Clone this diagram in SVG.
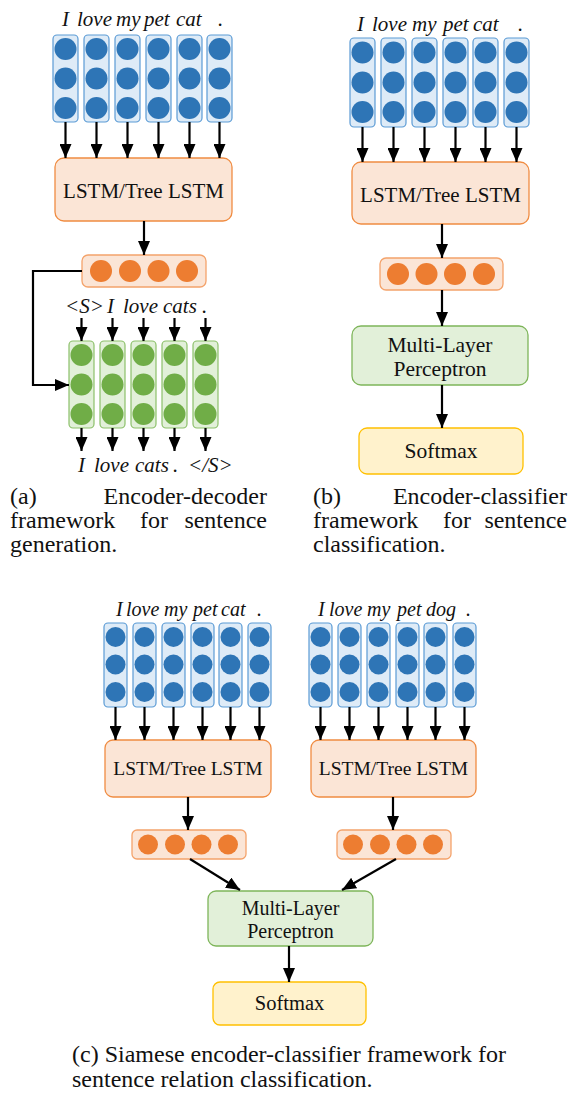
<svg xmlns="http://www.w3.org/2000/svg" width="579" height="1093" viewBox="0 0 579 1093">
<style>
.bcol{fill:#DEEBF7;stroke:#5B9BD5;stroke-width:1.2}
.bc{fill:#2E75B6}
.gcol{fill:#E2F0D9;stroke:#8CC06A;stroke-width:1.2}
.gc{fill:#70AD47}
.ovec{fill:#FBE5D6;stroke:#F4A36B;stroke-width:1.3}
.oc{fill:#ED7D31}
.lstm{fill:#FBE5D6;stroke:#F08C42;stroke-width:1.3}
.mlp{fill:#E2F0D9;stroke:#7EB55A;stroke-width:1.3}
.soft{fill:#FFF2CC;stroke:#FFC000;stroke-width:1.3}
.lbl{font-family:"Liberation Serif",serif;fill:#111;text-anchor:middle}
.it{font-family:"Liberation Serif",serif;font-style:italic;fill:#111}
.cap{font-family:"Liberation Serif",serif;font-size:24px;fill:#111}
.arr{stroke:#000;stroke-width:2.2;fill:none;marker-end:url(#ah)}
</style>
<defs>
<marker id="ah" viewBox="0 0 14 12" refX="14" refY="6" markerWidth="14" markerHeight="12" markerUnits="userSpaceOnUse" orient="auto">
<path d="M0,0 L14,6 L0,12 z" fill="#000"/>
</marker>
</defs>

<!-- Panel (a) -->
<g id="a-words" class="it" font-size="21">
<text x="62" y="26">I</text><text x="77" y="26">love</text><text x="116" y="26">my</text><text x="144" y="26">pet</text><text x="176" y="26">cat</text><text x="218" y="26">.</text>
</g>
<g id="a-input">
<rect class="bcol" x="53" y="35" width="25" height="87" rx="4"/>
<rect class="bcol" x="84" y="35" width="25" height="87" rx="4"/>
<rect class="bcol" x="115" y="35" width="25" height="87" rx="4"/>
<rect class="bcol" x="146" y="35" width="25" height="87" rx="4"/>
<rect class="bcol" x="177" y="35" width="25" height="87" rx="4"/>
<rect class="bcol" x="207" y="35" width="25" height="87" rx="4"/>
<g class="bc">
<circle cx="65.5" cy="49" r="11"/><circle cx="65.5" cy="78.5" r="11"/><circle cx="65.5" cy="108" r="11"/>
<circle cx="96.5" cy="49" r="11"/><circle cx="96.5" cy="78.5" r="11"/><circle cx="96.5" cy="108" r="11"/>
<circle cx="127.5" cy="49" r="11"/><circle cx="127.5" cy="78.5" r="11"/><circle cx="127.5" cy="108" r="11"/>
<circle cx="158.5" cy="49" r="11"/><circle cx="158.5" cy="78.5" r="11"/><circle cx="158.5" cy="108" r="11"/>
<circle cx="189.5" cy="49" r="11"/><circle cx="189.5" cy="78.5" r="11"/><circle cx="189.5" cy="108" r="11"/>
<circle cx="219.5" cy="49" r="11"/><circle cx="219.5" cy="78.5" r="11"/><circle cx="219.5" cy="108" r="11"/>
</g>
</g>
<g id="a-lstm">
<rect class="lstm" x="55" y="158" width="177" height="63" rx="9"/>
<text class="lbl" x="143.5" y="198" font-size="21">LSTM/Tree LSTM</text>
</g>
<g id="a-vec">
<rect class="ovec" x="82" y="255" width="124" height="32" rx="6"/>
<g class="oc"><circle cx="101" cy="271" r="11"/><circle cx="130" cy="271" r="11"/><circle cx="158.5" cy="271" r="11"/><circle cx="187" cy="271" r="11"/></g>
</g>
<g id="a-dec-words-in" class="it" font-size="21">
<text x="65" y="313">&lt;S&gt;</text><text x="107" y="313">I</text><text x="123" y="313">love</text><text x="163" y="313">cats</text><text x="202" y="313">.</text>
</g>
<g id="a-decoder">
<rect class="gcol" x="69" y="341" width="25" height="87" rx="4"/>
<rect class="gcol" x="100" y="341" width="25" height="87" rx="4"/>
<rect class="gcol" x="131" y="341" width="25" height="87" rx="4"/>
<rect class="gcol" x="162" y="341" width="25" height="87" rx="4"/>
<rect class="gcol" x="193" y="341" width="25" height="87" rx="4"/>
<g class="gc">
<circle cx="81.5" cy="355" r="11"/><circle cx="81.5" cy="384.5" r="11"/><circle cx="81.5" cy="414" r="11"/>
<circle cx="112.5" cy="355" r="11"/><circle cx="112.5" cy="384.5" r="11"/><circle cx="112.5" cy="414" r="11"/>
<circle cx="143.5" cy="355" r="11"/><circle cx="143.5" cy="384.5" r="11"/><circle cx="143.5" cy="414" r="11"/>
<circle cx="174.5" cy="355" r="11"/><circle cx="174.5" cy="384.5" r="11"/><circle cx="174.5" cy="414" r="11"/>
<circle cx="205.5" cy="355" r="11"/><circle cx="205.5" cy="384.5" r="11"/><circle cx="205.5" cy="414" r="11"/>
</g>
</g>
<g id="a-dec-words-out" class="it" font-size="21">
<text x="78" y="472">I</text><text x="94" y="472">love</text><text x="135" y="472">cats</text><text x="173" y="472">.</text><text x="188" y="472">&lt;/S&gt;</text>
</g>

<!-- Panel (b) -->
<g id="b-words" class="it" font-size="21">
<text x="357" y="31">I</text><text x="372" y="31">love</text><text x="412" y="31">my</text><text x="443" y="31">pet</text><text x="473" y="31">cat</text><text x="518" y="31">.</text>
</g>
<g id="b-input">
<rect class="bcol" x="350" y="38" width="25" height="89" rx="4"/>
<rect class="bcol" x="381" y="38" width="25" height="89" rx="4"/>
<rect class="bcol" x="412" y="38" width="25" height="89" rx="4"/>
<rect class="bcol" x="443" y="38" width="25" height="89" rx="4"/>
<rect class="bcol" x="473" y="38" width="25" height="89" rx="4"/>
<rect class="bcol" x="504" y="38" width="25" height="89" rx="4"/>
<g class="bc">
<circle cx="362.5" cy="52.5" r="11"/><circle cx="362.5" cy="82.5" r="11"/><circle cx="362.5" cy="112" r="11"/>
<circle cx="393.5" cy="52.5" r="11"/><circle cx="393.5" cy="82.5" r="11"/><circle cx="393.5" cy="112" r="11"/>
<circle cx="424.5" cy="52.5" r="11"/><circle cx="424.5" cy="82.5" r="11"/><circle cx="424.5" cy="112" r="11"/>
<circle cx="455.5" cy="52.5" r="11"/><circle cx="455.5" cy="82.5" r="11"/><circle cx="455.5" cy="112" r="11"/>
<circle cx="485.5" cy="52.5" r="11"/><circle cx="485.5" cy="82.5" r="11"/><circle cx="485.5" cy="112" r="11"/>
<circle cx="516.5" cy="52.5" r="11"/><circle cx="516.5" cy="82.5" r="11"/><circle cx="516.5" cy="112" r="11"/>
</g>
</g>
<g id="b-lstm">
<rect class="lstm" x="352" y="162" width="177" height="62" rx="9"/>
<text class="lbl" x="440.5" y="202" font-size="21">LSTM/Tree LSTM</text>
</g>
<g id="b-vec">
<rect class="ovec" x="380" y="258" width="123" height="32" rx="6"/>
<g class="oc"><circle cx="398" cy="274" r="11"/><circle cx="426.5" cy="274" r="11"/><circle cx="455" cy="274" r="11"/><circle cx="484" cy="274" r="11"/></g>
</g>
<g id="b-mlp">
<rect class="mlp" x="352" y="326" width="176" height="59" rx="9"/>
<text class="lbl" x="440" y="352" font-size="21.5">Multi-Layer</text>
<text class="lbl" x="440" y="376" font-size="21.5">Perceptron</text>
</g>
<g id="b-softmax">
<rect class="soft" x="359" y="428" width="164" height="46" rx="8"/>
<text class="lbl" x="441" y="458" font-size="21.5">Softmax</text>
</g>

<!-- Panel (c) -->
<g id="c-words-left" class="it" font-size="20">
<text x="116" y="616">I</text><text x="126" y="616">love</text><text x="164" y="616">my</text><text x="193" y="616">pet</text><text x="221" y="616">cat</text><text x="257" y="616">.</text>
</g>
<g id="c-input-left">
<rect class="bcol" x="104" y="623" width="23" height="84" rx="4"/>
<rect class="bcol" x="133" y="623" width="23" height="84" rx="4"/>
<rect class="bcol" x="162" y="623" width="23" height="84" rx="4"/>
<rect class="bcol" x="191" y="623" width="23" height="84" rx="4"/>
<rect class="bcol" x="219" y="623" width="23" height="84" rx="4"/>
<rect class="bcol" x="248" y="623" width="23" height="84" rx="4"/>
<g class="bc">
<circle cx="115.5" cy="637" r="10"/><circle cx="115.5" cy="664.5" r="10"/><circle cx="115.5" cy="692" r="10"/>
<circle cx="144.5" cy="637" r="10"/><circle cx="144.5" cy="664.5" r="10"/><circle cx="144.5" cy="692" r="10"/>
<circle cx="173.5" cy="637" r="10"/><circle cx="173.5" cy="664.5" r="10"/><circle cx="173.5" cy="692" r="10"/>
<circle cx="202.5" cy="637" r="10"/><circle cx="202.5" cy="664.5" r="10"/><circle cx="202.5" cy="692" r="10"/>
<circle cx="230.5" cy="637" r="10"/><circle cx="230.5" cy="664.5" r="10"/><circle cx="230.5" cy="692" r="10"/>
<circle cx="259.5" cy="637" r="10"/><circle cx="259.5" cy="664.5" r="10"/><circle cx="259.5" cy="692" r="10"/>
</g>
</g>
<g id="c-words-right" class="it" font-size="20">
<text x="318" y="616">I</text><text x="329" y="616">love</text><text x="367" y="616">my</text><text x="397" y="616">pet</text><text x="426" y="616">dog</text><text x="466" y="616">.</text>
</g>
<g id="c-input-right">
<rect class="bcol" x="309" y="623" width="23" height="84" rx="4"/>
<rect class="bcol" x="338" y="623" width="23" height="84" rx="4"/>
<rect class="bcol" x="367" y="623" width="23" height="84" rx="4"/>
<rect class="bcol" x="396" y="623" width="23" height="84" rx="4"/>
<rect class="bcol" x="424" y="623" width="23" height="84" rx="4"/>
<rect class="bcol" x="453" y="623" width="23" height="84" rx="4"/>
<g class="bc">
<circle cx="320.5" cy="637" r="10"/><circle cx="320.5" cy="664.5" r="10"/><circle cx="320.5" cy="692" r="10"/>
<circle cx="349.5" cy="637" r="10"/><circle cx="349.5" cy="664.5" r="10"/><circle cx="349.5" cy="692" r="10"/>
<circle cx="378.5" cy="637" r="10"/><circle cx="378.5" cy="664.5" r="10"/><circle cx="378.5" cy="692" r="10"/>
<circle cx="407.5" cy="637" r="10"/><circle cx="407.5" cy="664.5" r="10"/><circle cx="407.5" cy="692" r="10"/>
<circle cx="435.5" cy="637" r="10"/><circle cx="435.5" cy="664.5" r="10"/><circle cx="435.5" cy="692" r="10"/>
<circle cx="464.5" cy="637" r="10"/><circle cx="464.5" cy="664.5" r="10"/><circle cx="464.5" cy="692" r="10"/>
</g>
</g>
<g id="c-lstm-left">
<rect class="lstm" x="105" y="740" width="166" height="57" rx="8"/>
<text class="lbl" x="188" y="775" font-size="19.5">LSTM/Tree LSTM</text>
</g>
<g id="c-lstm-right">
<rect class="lstm" x="311" y="740" width="165" height="57" rx="8"/>
<text class="lbl" x="393.5" y="775" font-size="19.5">LSTM/Tree LSTM</text>
</g>
<g id="c-vec-left">
<rect class="ovec" x="132" y="830" width="114" height="29" rx="5"/>
<g class="oc"><circle cx="148" cy="844.5" r="10"/><circle cx="175" cy="844.5" r="10"/><circle cx="201.5" cy="844.5" r="10"/><circle cx="228" cy="844.5" r="10"/></g>
</g>
<g id="c-vec-right">
<rect class="ovec" x="337" y="830" width="114" height="29" rx="5"/>
<g class="oc"><circle cx="353" cy="844.5" r="10"/><circle cx="380" cy="844.5" r="10"/><circle cx="406.5" cy="844.5" r="10"/><circle cx="433" cy="844.5" r="10"/></g>
</g>
<g id="c-mlp">
<rect class="mlp" x="208" y="891" width="165" height="55" rx="8"/>
<text class="lbl" x="290.5" y="915" font-size="20">Multi-Layer</text>
<text class="lbl" x="290.5" y="938" font-size="20">Perceptron</text>
</g>
<g id="c-softmax">
<rect class="soft" x="213" y="982" width="153" height="43" rx="7"/>
<text class="lbl" x="289.5" y="1010" font-size="20.5">Softmax</text>
</g>

<!-- Connectors -->
<g id="connectors">
<line class="arr" x1="65.5" y1="122" x2="65.5" y2="158"/>
<line class="arr" x1="96.5" y1="122" x2="96.5" y2="158"/>
<line class="arr" x1="127.5" y1="122" x2="127.5" y2="158"/>
<line class="arr" x1="158.5" y1="122" x2="158.5" y2="158"/>
<line class="arr" x1="189.5" y1="122" x2="189.5" y2="158"/>
<line class="arr" x1="219.5" y1="122" x2="219.5" y2="158"/>
<line class="arr" x1="144" y1="221" x2="144" y2="255"/>
<polyline class="arr" points="82,271 33,271 33,385 69,385"/>
<line class="arr" x1="81.5" y1="318" x2="81.5" y2="341"/>
<line class="arr" x1="112.5" y1="318" x2="112.5" y2="341"/>
<line class="arr" x1="143.5" y1="318" x2="143.5" y2="341"/>
<line class="arr" x1="174.5" y1="318" x2="174.5" y2="341"/>
<line class="arr" x1="205.5" y1="318" x2="205.5" y2="341"/>
<line class="arr" x1="81.5" y1="428" x2="81.5" y2="451"/>
<line class="arr" x1="112.5" y1="428" x2="112.5" y2="451"/>
<line class="arr" x1="143.5" y1="428" x2="143.5" y2="451"/>
<line class="arr" x1="174.5" y1="428" x2="174.5" y2="451"/>
<line class="arr" x1="205.5" y1="428" x2="205.5" y2="451"/>

<line class="arr" x1="362.5" y1="127" x2="362.5" y2="162"/>
<line class="arr" x1="393.5" y1="127" x2="393.5" y2="162"/>
<line class="arr" x1="424.5" y1="127" x2="424.5" y2="162"/>
<line class="arr" x1="455.5" y1="127" x2="455.5" y2="162"/>
<line class="arr" x1="485.5" y1="127" x2="485.5" y2="162"/>
<line class="arr" x1="516.5" y1="127" x2="516.5" y2="162"/>
<line class="arr" x1="442" y1="224" x2="442" y2="258"/>
<line class="arr" x1="442" y1="290" x2="442" y2="326"/>
<line class="arr" x1="442" y1="385" x2="442" y2="428"/>

<line class="arr" x1="115.5" y1="707" x2="115.5" y2="740"/>
<line class="arr" x1="144.5" y1="707" x2="144.5" y2="740"/>
<line class="arr" x1="173.5" y1="707" x2="173.5" y2="740"/>
<line class="arr" x1="202.5" y1="707" x2="202.5" y2="740"/>
<line class="arr" x1="230.5" y1="707" x2="230.5" y2="740"/>
<line class="arr" x1="259.5" y1="707" x2="259.5" y2="740"/>
<line class="arr" x1="320.5" y1="707" x2="320.5" y2="740"/>
<line class="arr" x1="349.5" y1="707" x2="349.5" y2="740"/>
<line class="arr" x1="378.5" y1="707" x2="378.5" y2="740"/>
<line class="arr" x1="407.5" y1="707" x2="407.5" y2="740"/>
<line class="arr" x1="435.5" y1="707" x2="435.5" y2="740"/>
<line class="arr" x1="464.5" y1="707" x2="464.5" y2="740"/>
<line class="arr" x1="188" y1="797" x2="188" y2="830"/>
<line class="arr" x1="393" y1="797" x2="393" y2="830"/>
<line class="arr" x1="190" y1="859" x2="240" y2="890"/>
<line class="arr" x1="396" y1="859" x2="342" y2="890"/>
<line class="arr" x1="289" y1="946" x2="289" y2="982"/>
</g>

<!-- Captions -->
<g id="caption-a" class="cap">
<text x="10" y="504">(a)</text><text x="267" y="504" text-anchor="end">Encoder-decoder</text>
<text x="10" y="528">framework</text><text x="154" y="528" text-anchor="middle">for</text><text x="267" y="528" text-anchor="end">sentence</text>
<text x="10" y="552">generation.</text>
</g>
<g id="caption-b" class="cap">
<text x="313" y="504">(b)</text><text x="567" y="504" text-anchor="end">Encoder-classifier</text>
<text x="313" y="528">framework</text><text x="457" y="528" text-anchor="middle">for</text><text x="567" y="528" text-anchor="end">sentence</text>
<text x="313" y="552">classification.</text>
</g>
<g id="caption-c" class="cap">
<text x="72" y="1062">(c) Siamese encoder-classifier framework for</text>
<text x="72" y="1087">sentence relation classification.</text>
</g>
</svg>
